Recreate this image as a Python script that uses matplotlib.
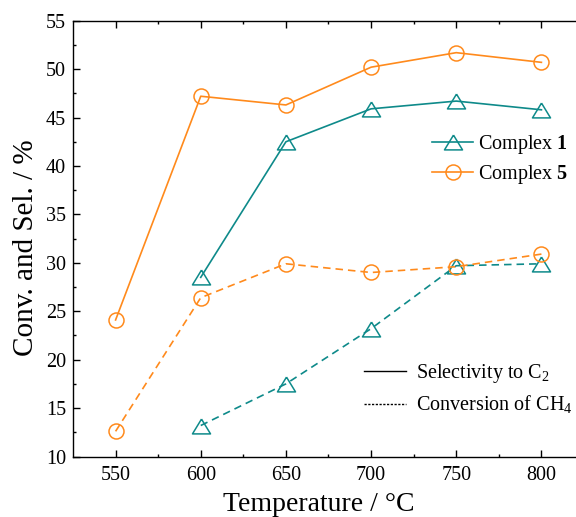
import matplotlib

matplotlib.use("Agg")
import matplotlib.pyplot as plt
from matplotlib.lines import Line2D

plt.rcParams["font.family"] = ["Liberation Serif", "DejaVu Serif"]
plt.rcParams["mathtext.fontset"] = "custom"
plt.rcParams["mathtext.rm"] = "Liberation Serif"
plt.rcParams["mathtext.bf"] = "Liberation Serif:bold"

TEMPS_1 = [600, 650, 700, 750, 800]
TEMPS_5 = [550, 600, 650, 700, 750, 800]

SEL_1 = [28.5, 42.5, 45.9, 46.7, 45.8]
SEL_5 = [24.1, 47.2, 46.3, 50.2, 51.7, 50.7]
CONV_1 = [13.2, 17.5, 23.2, 29.7, 29.9]
CONV_5 = [12.6, 26.4, 29.9, 29.0, 29.6, 30.9]

TEAL = "#0E8A8A"
ORANGE = "#FF8A1C"
TRI = [(0, 0.82), (-1, -0.82), (1, -0.82), (0, 0.82)]
DASH = (0, (4.5, 3.0))

# axes box in image pixels (top-left origin)
AX_LEFT, AX_TOP, AX_W, AX_H = 73, 20.7, 511, 435.8
AX_BOTTOM = AX_TOP + AX_H


def ax_pos(px, py):
    return (px - AX_LEFT) / AX_W, (AX_BOTTOM - py) / AX_H


fig = plt.figure(figsize=(5.76, 5.17), dpi=100)
ax = fig.add_axes([AX_LEFT / 576, (517 - AX_BOTTOM) / 517, AX_W / 576, AX_H / 517])

common = dict(lw=1.2, markerfacecolor="none", markeredgewidth=1.1)
l1, = ax.plot(TEMPS_1, SEL_1, color=TEAL, marker=TRI, ms=13, label="Complex $\\mathbf{1}$", **common)
l5, = ax.plot(TEMPS_5, SEL_5, color=ORANGE, marker="o", ms=10.8, label="Complex $\\mathbf{5}$", **common)
ax.plot(TEMPS_1, CONV_1, color=TEAL, marker=TRI, ms=13, ls=DASH, **common)
ax.plot(TEMPS_5, CONV_5, color=ORANGE, marker="o", ms=10.8, ls=DASH, **common)

ax.set_xlim(525, 825)
ax.set_ylim(10, 55)
ax.set_xticks([550, 600, 650, 700, 750, 800])
ax.set_xticks([575, 625, 675, 725, 775], minor=True)
ax.set_yticks(range(10, 56, 5))
ax.set_yticks([12.5 + 5 * i for i in range(9)], minor=True)
ax.tick_params(which="both", direction="in", top=True, right=False, width=1.0, labelsize=14.5)
ax.tick_params(which="major", length=5)
ax.tick_params(which="minor", length=2.5)
ax.tick_params(axis="x", pad=7)
ax.tick_params(axis="y", pad=5)
for side in ("left", "bottom", "top"):
    ax.spines[side].set_linewidth(1.0)
ax.spines["right"].set_visible(False)

ax.set_xlabel("Temperature / \u00b0C", fontsize=20)
ax.xaxis.set_label_coords(0.481, -0.082)
ax.set_ylabel("Conv. and Sel. / %", fontsize=21)
ax.yaxis.set_label_coords(-0.066, 0.48)

leg1 = ax.legend(
    handles=[l1, l5],
    loc="upper left",
    bbox_to_anchor=ax_pos(432, 133),
    frameon=False,
    fontsize=14.5,
    handlelength=2.05,
    handletextpad=0.25,
    labelspacing=0.35,
    borderaxespad=0,
    borderpad=0,
)
ax.add_artist(leg1)

style_handles = [
    Line2D([], [], color="black", lw=1.0),
    Line2D([], [], color="black", lw=1.0, ls=(0, (1.6, 1.1))),
]
ax.legend(
    handles=style_handles,
    labels=["Selectivity to C$_2$", "Conversion of CH$_4$"],
    loc="upper left",
    bbox_to_anchor=ax_pos(364, 362),
    frameon=False,
    fontsize=14.5,
    handlelength=2.1,
    handletextpad=0.5,
    labelspacing=0.45,
    borderaxespad=0,
    borderpad=0,
)

fig.savefig("out.png", dpi=100)
